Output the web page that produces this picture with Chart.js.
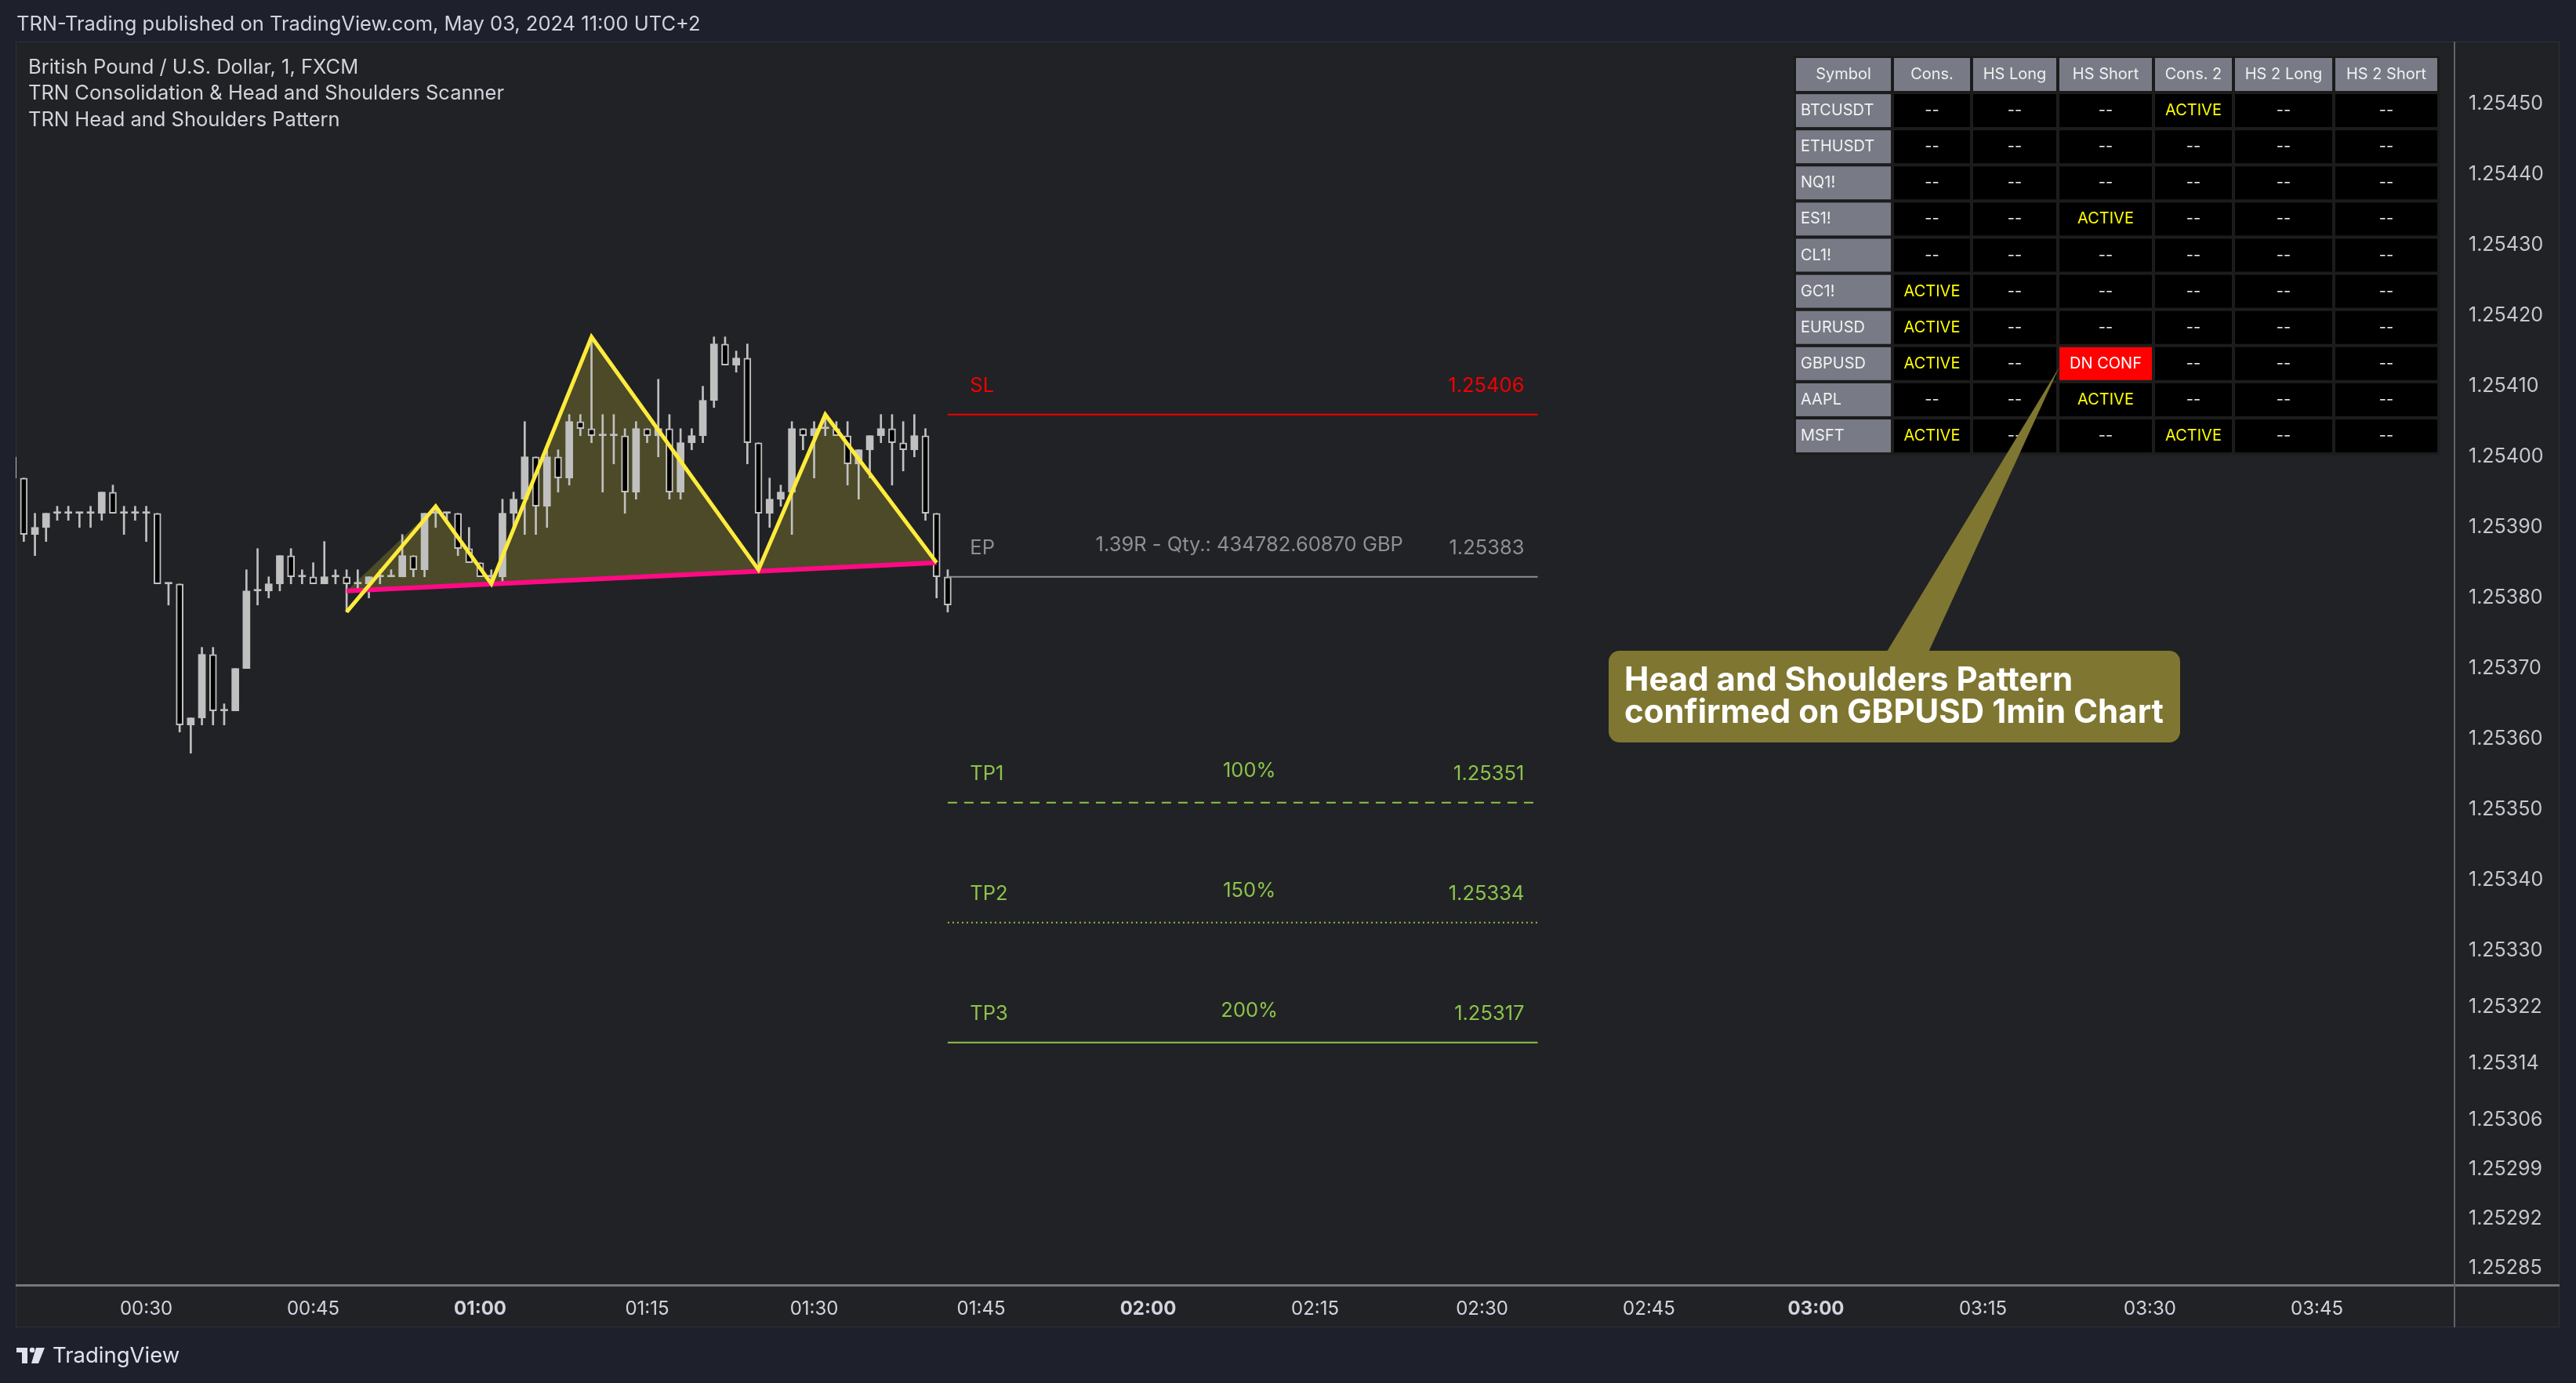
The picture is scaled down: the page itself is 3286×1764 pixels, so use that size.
<!DOCTYPE html>
<html>
<head>
<meta charset="utf-8">
<script src="https://cdn.jsdelivr.net/npm/chart.js@4.4.1/dist/chart.umd.min.js"></script>
<style>
  html, body { margin: 0; padding: 0; background: #1e212b; }
  #wrap { width: 3286px; height: 1764px; }
</style>
</head>
<body>
<div id="wrap"><canvas id="hsChart" width="3286" height="1764"></canvas></div>
<script>
// GBPUSD 1 min candles
const barTimes = [
  '00:18', '00:19', '00:20', '00:21', '00:22', '00:23', '00:24', '00:25', '00:26', '00:27',
  '00:28', '00:29', '00:30', '00:31', '00:32', '00:33', '00:34', '00:35', '00:36', '00:37',
  '00:38', '00:39', '00:40', '00:41', '00:42', '00:43', '00:44', '00:45', '00:46', '00:47',
  '00:48', '00:49', '00:50', '00:51', '00:52', '00:53', '00:54', '00:55', '00:56', '00:57',
  '00:58', '00:59', '01:00', '01:01', '01:02', '01:03', '01:04', '01:05', '01:06', '01:07',
  '01:08', '01:09', '01:10', '01:11', '01:12', '01:13', '01:14', '01:15', '01:16', '01:17',
  '01:18', '01:19', '01:20', '01:21', '01:22', '01:23', '01:24', '01:25', '01:26', '01:27',
  '01:28', '01:29', '01:30', '01:31', '01:32', '01:33', '01:34', '01:35', '01:36', '01:37',
  '01:38', '01:39', '01:40', '01:41', '01:42'
];
const opens = [
  1.25400, 1.25397, 1.25389, 1.25390, 1.25392, 1.25392, 1.25392, 1.25392, 1.25392, 1.25395,
  1.25392, 1.25392, 1.25392, 1.25392, 1.25382, 1.25382, 1.25362, 1.25363, 1.25372, 1.25364,
  1.25364, 1.25370, 1.25381, 1.25381, 1.25382, 1.25386, 1.25383, 1.25383, 1.25382, 1.25383,
  1.25383, 1.25382, 1.25382, 1.25383, 1.25383, 1.25383, 1.25386, 1.25384, 1.25392, 1.25392,
  1.25392, 1.25387, 1.25385, 1.25383, 1.25383, 1.25392, 1.25394, 1.25400, 1.25393, 1.25400,
  1.25397, 1.25405, 1.25404, 1.25403, 1.25403, 1.25403, 1.25395, 1.25404, 1.25403, 1.25404,
  1.25395, 1.25402, 1.25403, 1.25408, 1.25416, 1.25413, 1.25414, 1.25402, 1.25392, 1.25394,
  1.25395, 1.25404, 1.25403, 1.25404, 1.25404, 1.25403, 1.25399, 1.25401, 1.25403, 1.25404,
  1.25402, 1.25401, 1.25403, 1.25392, 1.25383
];
const highs = [
  1.25400, 1.25397, 1.25392, 1.25392, 1.25393, 1.25393, 1.25392, 1.25393, 1.25395, 1.25396,
  1.25393, 1.25393, 1.25393, 1.25392, 1.25382, 1.25382, 1.25363, 1.25373, 1.25373, 1.25365,
  1.25370, 1.25384, 1.25387, 1.25383, 1.25386, 1.25387, 1.25384, 1.25385, 1.25388, 1.25384,
  1.25384, 1.25384, 1.25383, 1.25384, 1.25384, 1.25389, 1.25386, 1.25392, 1.25393, 1.25392,
  1.25392, 1.25390, 1.25385, 1.25384, 1.25394, 1.25395, 1.25405, 1.25400, 1.25401, 1.25401,
  1.25406, 1.25406, 1.25417, 1.25406, 1.25406, 1.25404, 1.25405, 1.25404, 1.25411, 1.25406,
  1.25404, 1.25404, 1.25410, 1.25417, 1.25417, 1.25415, 1.25416, 1.25402, 1.25397, 1.25396,
  1.25405, 1.25404, 1.25405, 1.25406, 1.25405, 1.25405, 1.25401, 1.25403, 1.25406, 1.25406,
  1.25405, 1.25406, 1.25404, 1.25392, 1.25384
];
const lows = [
  1.25397, 1.25388, 1.25386, 1.25388, 1.25391, 1.25391, 1.25390, 1.25390, 1.25391, 1.25392,
  1.25389, 1.25391, 1.25388, 1.25382, 1.25379, 1.25361, 1.25358, 1.25362, 1.25362, 1.25362,
  1.25364, 1.25370, 1.25379, 1.25380, 1.25381, 1.25382, 1.25382, 1.25382, 1.25382, 1.25382,
  1.25378, 1.25381, 1.25380, 1.25382, 1.25383, 1.25383, 1.25383, 1.25383, 1.25390, 1.25391,
  1.25386, 1.25385, 1.25383, 1.25382, 1.25382, 1.25390, 1.25389, 1.25389, 1.25390, 1.25395,
  1.25396, 1.25403, 1.25402, 1.25395, 1.25399, 1.25392, 1.25394, 1.25402, 1.25400, 1.25394,
  1.25394, 1.25401, 1.25402, 1.25407, 1.25413, 1.25412, 1.25399, 1.25384, 1.25390, 1.25393,
  1.25389, 1.25401, 1.25397, 1.25403, 1.25403, 1.25396, 1.25394, 1.25397, 1.25402, 1.25396,
  1.25398, 1.25400, 1.25391, 1.25380, 1.25378
];
const closes = [
  1.25397, 1.25389, 1.25390, 1.25392, 1.25392, 1.25392, 1.25392, 1.25392, 1.25395, 1.25392,
  1.25392, 1.25392, 1.25392, 1.25382, 1.25382, 1.25362, 1.25363, 1.25372, 1.25364, 1.25364,
  1.25370, 1.25381, 1.25381, 1.25382, 1.25386, 1.25383, 1.25383, 1.25382, 1.25383, 1.25383,
  1.25382, 1.25382, 1.25383, 1.25383, 1.25383, 1.25386, 1.25384, 1.25392, 1.25392, 1.25392,
  1.25387, 1.25385, 1.25383, 1.25383, 1.25392, 1.25394, 1.25400, 1.25393, 1.25400, 1.25397,
  1.25405, 1.25404, 1.25403, 1.25403, 1.25403, 1.25395, 1.25404, 1.25403, 1.25404, 1.25395,
  1.25402, 1.25403, 1.25408, 1.25416, 1.25413, 1.25414, 1.25402, 1.25392, 1.25394, 1.25395,
  1.25404, 1.25403, 1.25404, 1.25404, 1.25403, 1.25399, 1.25401, 1.25403, 1.25404, 1.25402,
  1.25401, 1.25403, 1.25392, 1.25383, 1.25379
];

// head and shoulders pattern (pivot times / prices)
const patternTimes = ['00:48', '00:56', '01:01', '01:10', '01:25', '01:31', '01:41'];
const patternPrices = [1.25378, 1.25393, 1.25382, 1.25417, 1.25384, 1.25406, 1.25385];
const necklineTimes = ['00:48', '01:41'];
const necklinePrices = [1.25381, 1.25385];

// trade levels
const levelNames = ['SL', 'EP', 'TP1', 'TP2', 'TP3'];
const levelPrices = [1.25406, 1.25383, 1.25351, 1.25334, 1.25317];
const levelNotes = ['', '1.39R - Qty.: 434782.60870 GBP', '100%', '150%', '200%'];
const levelFrom = '01:42';
const levelTo = '02:35';

// axes
const timeTicks = ['00:30', '00:45', '01:00', '01:15', '01:30', '01:45', '02:00', '02:15',
  '02:30', '02:45', '03:00', '03:15', '03:30', '03:45'];
const priceTicks = [1.25450, 1.25440, 1.25430, 1.25420, 1.25410, 1.25400, 1.25390, 1.25380,
  1.25370, 1.25360, 1.25350, 1.25340, 1.25330, 1.25322, 1.25314, 1.25306, 1.25299, 1.25292, 1.25285];

// scanner table
const tableHeaders = ['Symbol', 'Cons.', 'HS Long', 'HS Short', 'Cons. 2', 'HS 2 Long', 'HS 2 Short'];
const tableSymbols = ['BTCUSDT', 'ETHUSDT', 'NQ1!', 'ES1!', 'CL1!', 'GC1!', 'EURUSD', 'GBPUSD', 'AAPL', 'MSFT'];
const tableStatus = [
  ['--', '--', '--', 'ACTIVE', '--', '--'],
  ['--', '--', '--', '--', '--', '--'],
  ['--', '--', '--', '--', '--', '--'],
  ['--', '--', 'ACTIVE', '--', '--', '--'],
  ['--', '--', '--', '--', '--', '--'],
  ['ACTIVE', '--', '--', '--', '--', '--'],
  ['ACTIVE', '--', '--', '--', '--', '--'],
  ['ACTIVE', '--', 'DN CONF', '--', '--', '--'],
  ['--', '--', 'ACTIVE', '--', '--', '--'],
  ['ACTIVE', '--', '--', 'ACTIVE', '--', '--']
];

const toMin = t => { const p = t.split(':'); return +p[0] * 60 + +p[1]; };
const fmtMin = m => String(Math.floor(m / 60)).padStart(2, '0') + ':' + String(m % 60).padStart(2, '0');

const UP = '#c0c0c0';
const FONT = 'Inter, "Noto Sans", sans-serif';
Chart.defaults.font.family = FONT;

const barX = barTimes.map(toMin);
const patternPts = patternTimes.map((t, i) => ({ x: toMin(t), y: patternPrices[i] }));
const necklinePts = necklineTimes.map((t, i) => ({ x: toMin(t), y: necklinePrices[i] }));
// fill shape: neckline start, inner pivots, neckline end (closed back along neckline)
const fillPts = [necklinePts[0]].concat(patternPts.slice(1));

const levelColors = ['#f20000', '#8e9097', '#8bc34a', '#8bc34a', '#8bc34a'];
const levelDash = [[], [], [12, 9], [2, 4], []];
const levelSets = levelNames.map((name, i) => ({
  type: 'line',
  label: name,
  data: [{ x: toMin(levelFrom), y: levelPrices[i] }, { x: toMin(levelTo), y: levelPrices[i] }],
  borderColor: levelColors[i],
  borderWidth: 2,
  borderDash: levelDash[i],
  pointRadius: 0,
  order: 1
}));

function txt(ctx, s, x, y, font, color, align) {
  ctx.font = font;
  ctx.fillStyle = color;
  ctx.textAlign = align || 'left';
  ctx.textBaseline = 'middle';
  ctx.fillText(s, x, y);
}

const overlay = {
  id: 'overlay',
  beforeDraw(chart) {
    const ctx = chart.ctx;
    ctx.save();
    ctx.fillStyle = '#1e212b';
    ctx.fillRect(0, 0, chart.width, chart.height);
    ctx.fillStyle = '#212225';
    ctx.fillRect(20, 53, 3245, 1640);
    ctx.strokeStyle = '#2e313b';
    ctx.lineWidth = 1;
    ctx.strokeRect(20.5, 53.5, 3244, 1639);
    ctx.restore();
  },
  afterDatasetsDraw(chart) {
    const ctx = chart.ctx;
    const xs = chart.scales.x, ys = chart.scales.y;
    const x0 = toMin(levelFrom), x1 = toMin(levelTo);
    ctx.save();
    levelNames.forEach((name, i) => {
      const y = ys.getPixelForValue(levelPrices[i]);
      const f = '25.5px ' + FONT;
      txt(ctx, name, xs.getPixelForValue(x0 + 2), y - 36, f, levelColors[i], 'left');
      txt(ctx, levelNotes[i], xs.getPixelForValue(x0 + 27.1), y - 40, f, levelColors[i], 'center');
      txt(ctx, levelPrices[i].toFixed(5), xs.getPixelForValue(x1 - 1.2), y - 36, f, levelColors[i], 'right');
    });
    ctx.restore();
  },
  afterDraw(chart) {
    const ctx = chart.ctx;
    const area = chart.chartArea;
    ctx.save();
    // axis separators
    ctx.fillStyle = '#76787f';
    ctx.fillRect(20, area.bottom - 1, 3245, 3);
    ctx.fillStyle = '#5f626b';
    ctx.fillRect(area.right - 1, 53, 2, 1640);

    // header + legend
    const f = '25.5px ' + FONT;
    txt(ctx, 'TRN-Trading published on TradingView.com, May 03, 2024 11:00 UTC+2', 21, 31, f, '#d1d4dc');
    txt(ctx, 'British Pound / U.S. Dollar, 1, FXCM', 36, 86, f, '#d1d4dc');
    txt(ctx, 'TRN Consolidation & Head and Shoulders Scanner', 36, 119, f, '#d1d4dc');
    txt(ctx, 'TRN Head and Shoulders Pattern', 36, 153, f, '#d1d4dc');

    // scanner table
    const colW = [121, 97, 106, 118, 98, 124, 130];
    const gap = 4, rowH = 42, rowStep = 46.1, tx = 2291, ty = 74;
    const totalW = colW.reduce((a, b) => a + b, 0) + gap * (colW.length - 1);
    ctx.fillStyle = '#1c1c1c';
    ctx.fillRect(tx - 3, ty - 3, totalW + 6, rowStep * 11 - gap + 6);
    for (let r = -1; r < tableSymbols.length; r++) {
      const y = ty + (r + 1) * rowStep;
      let x = tx;
      colW.forEach((w, c) => {
        let bg = '#000000', fg = '#e6e6e6', s;
        if (r < 0) { bg = '#787b86'; fg = '#f0f0f0'; s = tableHeaders[c]; }
        else if (c === 0) { bg = '#787b86'; fg = '#f2f2f2'; s = tableSymbols[r]; }
        else {
          s = tableStatus[r][c - 1];
          if (s === 'ACTIVE') fg = '#ffff00';
          if (s === 'DN CONF') { bg = '#ff0000'; fg = '#ffffff'; }
        }
        ctx.fillStyle = bg;
        ctx.fillRect(x, y, w, rowH);
        if (r >= 0 && c === 0) txt(ctx, s, x + 6, y + rowH / 2, '20px ' + FONT, fg, 'left');
        else txt(ctx, s, x + w / 2, y + rowH / 2, '20px ' + FONT, fg, 'center');
        x += w + gap;
      });
    }

    // callout
    ctx.fillStyle = '#7f7631';
    ctx.beginPath();
    ctx.moveTo(2627, 468);
    ctx.lineTo(2404, 836);
    ctx.lineTo(2458, 836);
    ctx.closePath();
    ctx.fill();
    ctx.beginPath();
    ctx.roundRect(2052, 830, 729, 117, 14);
    ctx.fill();
    txt(ctx, 'Head and Shoulders Pattern', 2072, 868, 'bold 42px ' + FONT, '#ffffff');
    txt(ctx, 'confirmed on GBPUSD 1min Chart', 2072, 909, 'bold 42px ' + FONT, '#ffffff');

    // footer logo
    ctx.fillStyle = '#e0e3eb';
    ctx.fillRect(21, 1719, 14, 6);
    ctx.fillRect(28, 1719, 7, 20);
    ctx.beginPath();
    ctx.arc(41, 1722, 3.2, 0, Math.PI * 2);
    ctx.fill();
    ctx.beginPath();
    ctx.moveTo(46, 1719); ctx.lineTo(57, 1719); ctx.lineTo(49, 1739); ctx.lineTo(40, 1739);
    ctx.closePath();
    ctx.fill();
    txt(ctx, 'TradingView', 67, 1730, '27.5px ' + FONT, '#e0e3eb');
    ctx.restore();
  }
};

const hsChart = new Chart(document.getElementById('hsChart'), {
  type: 'bar',
  data: {
    datasets: [{
      type: 'line',
      label: 'Pattern',
      data: patternPts,
      borderColor: '#ffeb3b',
      borderWidth: 5,
      pointRadius: 0,
      order: 0
    }, {
      type: 'line',
      label: 'Neckline',
      data: necklinePts,
      borderColor: '#ff0a84',
      borderWidth: 6,
      pointRadius: 0,
      order: 0
    }, {
      label: 'Body',
      data: barX.map((m, i) => ({ x: m, y: [opens[i], closes[i]] })),
      backgroundColor: ctx => closes[ctx.dataIndex] < opens[ctx.dataIndex] ? '#000000' : UP,
      borderColor: UP,
      borderWidth: ctx => closes[ctx.dataIndex] < opens[ctx.dataIndex] ? 2 : 0,
      borderSkipped: false,
      barThickness: 9,
      minBarLength: 2,
      grouped: false,
      clip: 0,
      order: 2
    }, {
      label: 'Wick',
      data: barX.map((m, i) => ({ x: m, y: [lows[i], highs[i]] })),
      backgroundColor: UP,
      barThickness: 2,
      grouped: false,
      clip: 0,
      order: 3
    }, {
      type: 'line',
      label: 'Pattern fill',
      data: fillPts,
      borderColor: 'rgba(0,0,0,0)',
      borderWidth: 0,
      backgroundColor: 'rgba(255, 235, 59, 0.2)',
      fill: 'shape',
      pointRadius: 0,
      order: 4
    }].concat(levelSets)
  },
  options: {
    responsive: false,
    animation: false,
    devicePixelRatio: 1,
    layout: { padding: { left: 20, right: 21, top: 53, bottom: 71 } },
    plugins: {
      legend: { display: false },
      tooltip: { enabled: false }
    },
    scales: {
      x: {
        type: 'linear',
        min: 18.27,
        max: 237.36,
        offset: false,
        grid: { display: false },
        border: { display: false },
        afterBuildTicks: axis => { axis.ticks = timeTicks.map(t => ({ value: toMin(t) })); },
        afterFit: axis => { axis.height = 54; },
        ticks: {
          autoSkip: false,
          maxRotation: 0,
          padding: 8,
          color: '#d1d4dc',
          font: ctx => ({ size: 24, weight: ctx.tick && ctx.tick.value % 60 === 0 ? 'bold' : 'normal' }),
          callback: v => fmtMin(v)
        }
      },
      y: {
        type: 'linear',
        position: 'right',
        min: 1.2528263,
        max: 1.2545886,
        grid: { display: false },
        border: { display: false },
        afterBuildTicks: axis => { axis.ticks = priceTicks.map(v => ({ value: v })); },
        afterFit: axis => { axis.width = 134; },
        ticks: {
          padding: 10,
          color: '#c5c8cf',
          font: { size: 25 },
          callback: v => v.toFixed(5)
        }
      }
    }
  },
  plugins: [overlay]
});
</script>
</body>
</html>
